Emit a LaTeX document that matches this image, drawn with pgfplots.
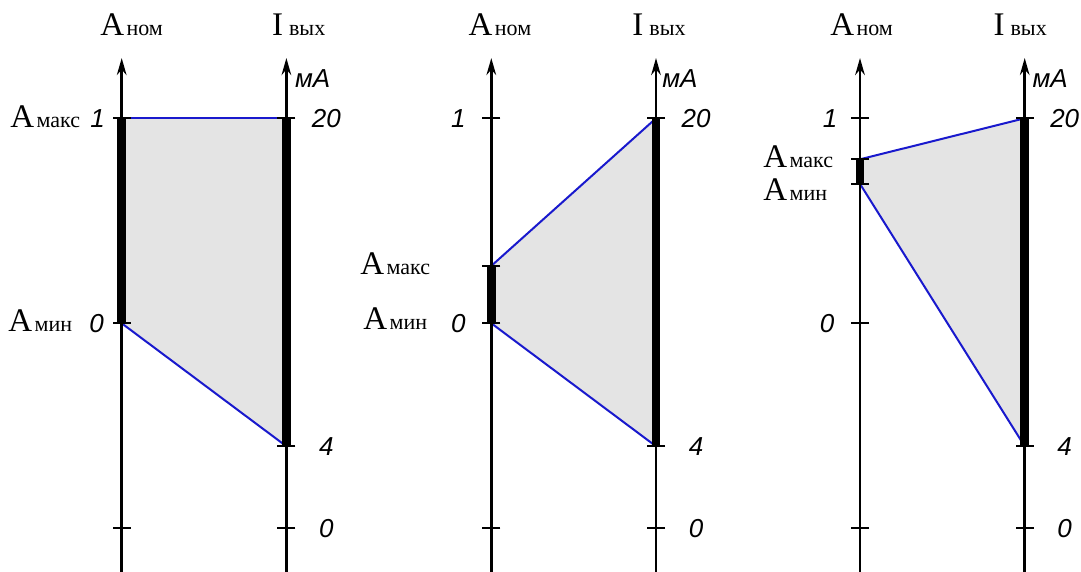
\documentclass[border=0pt]{standalone}
\usepackage{pgfplots}
\pgfplotsset{compat=1.18}
\usetikzlibrary{arrows.meta}
\usepackage{fontspec}
\setmainfont{Liberation Serif}
\newfontfamily\arial{Liberation Sans}
\definecolor{lineblue}{RGB}{25,25,205}
\definecolor{fillgray}{RGB}{228,228,228}
\newcommand{\Alab}[1]{{\fontsize{16.5}{16.5}\selectfont A}\hspace{1.2pt}{\fontsize{11}{11}\selectfont #1}}
\newcommand{\Ilab}{{\fontsize{16.5}{16.5}\selectfont I}\hspace{3pt}{\fontsize{11}{11}\selectfont вых}}
\newcommand{\nm}[1]{{\arial\itshape\fontsize{13}{13}\selectfont #1}}
\pgfplotsset{
  panel/.style={hide axis, scale only axis, width=82.35pt, height=266.5pt,
    xmin=0, xmax=1, ymin=-1.25, ymax=1.35, clip=false, anchor=south west},
  axl/.style={black, line width=1.25pt, -{Stealth[length=8.5pt,width=4.8pt]}},
  bar/.style={black, line width=4.3pt},
  bl/.style={lineblue, line width=1pt},
  tk/.style={only marks, mark=-, mark size=4.5pt, mark options={line width=1.2pt, black}},
}
\tikzset{lab/.style={inner sep=0pt}}
\begin{document}
\begin{tikzpicture}
% Panel 1
\begin{axis}[panel, at={(60.85pt,-3.775pt)}]
\addplot[fill=fillgray, draw=none] coordinates {(0,0) (0,1) (1,1) (1,-0.6)} -- cycle;
\addplot[bl] coordinates {(0,1) (1,1)};
\addplot[bl] coordinates {(0,0) (1,-0.6)};
\addplot[axl] coordinates {(0,-1.25) (0,1.294)};
\addplot[axl] coordinates {(1,-1.25) (1,1.294)};
\addplot[bar] coordinates {(0,0) (0,1)};
\addplot[bar] coordinates {(1,-0.6) (1,1)};
\addplot[tk] coordinates {(0,1) (0,0) (0,-1) (1,1) (1,-0.6) (1,-1)};
\node[lab, anchor=base west, xshift=-10.85pt] at (axis cs:0,1.4015) {\Alab{ном}};
\node[lab, anchor=base west, xshift=-7.35pt] at (axis cs:1,1.4015) {\Ilab};
\node[lab, anchor=base west, xshift=4.1pt] at (axis cs:1,1.148) {\nm{мА}};
\node[lab, xshift=20pt] at (axis cs:1,1) {\nm{20}};
\node[lab, xshift=20pt] at (axis cs:1,-0.6) {\nm{4}};
\node[lab, xshift=20pt] at (axis cs:1,-1) {\nm{0}};
\node[lab, xshift=-12pt] at (axis cs:0,1) {\nm{1}};
\node[lab, xshift=-12.5pt] at (axis cs:0,0) {\nm{0}};
\node[lab, anchor=base west, xshift=-55.85pt] at (axis cs:0,0.9527) {\Alab{макс}};
\node[lab, anchor=base west, xshift=-56.85pt] at (axis cs:0,-0.0424) {\Alab{мин}};
\end{axis}
% Panel 2
\begin{axis}[panel, at={(245.65pt,-3.775pt)}]
\addplot[fill=fillgray, draw=none] coordinates {(0,0) (0,0.28) (1,1) (1,-0.6)} -- cycle;
\addplot[bl] coordinates {(0,0.28) (1,1)};
\addplot[bl] coordinates {(0,0) (1,-0.6)};
\addplot[axl] coordinates {(0,-1.25) (0,1.294)};
\addplot[axl] coordinates {(1,-1.25) (1,1.294)};
\addplot[bar] coordinates {(0,0) (0,0.28)};
\addplot[bar] coordinates {(1,-0.6) (1,1)};
\addplot[tk] coordinates {(0,1) (0,0.28) (0,0) (0,-1) (1,1) (1,-0.6) (1,-1)};
\node[lab, anchor=base west, xshift=-11.5pt] at (axis cs:0,1.4015) {\Alab{ном}};
\node[lab, anchor=base west, xshift=-12pt] at (axis cs:1,1.4015) {\Ilab};
\node[lab, anchor=base west, xshift=3pt] at (axis cs:1,1.148) {\nm{мА}};
\node[lab, xshift=20pt] at (axis cs:1,1) {\nm{20}};
\node[lab, xshift=20pt] at (axis cs:1,-0.6) {\nm{4}};
\node[lab, xshift=20pt] at (axis cs:1,-1) {\nm{0}};
\node[lab, xshift=-16.5pt] at (axis cs:0,1) {\nm{1}};
\node[lab, xshift=-16.5pt] at (axis cs:0,0) {\nm{0}};
\node[lab, anchor=base west, xshift=-65.65pt] at (axis cs:0,0.2356) {\Alab{макс}};
\node[lab, anchor=base west, xshift=-64.15pt] at (axis cs:0,-0.0327) {\Alab{мин}};
\end{axis}
% Panel 3
\begin{axis}[panel, at={(430pt,-3.775pt)}]
\addplot[fill=fillgray, draw=none] coordinates {(0,0.68) (0,0.8) (1,1) (1,-0.6)} -- cycle;
\addplot[bl] coordinates {(0,0.8) (1,1)};
\addplot[bl] coordinates {(0,0.68) (1,-0.6)};
\addplot[axl] coordinates {(0,-1.25) (0,1.294)};
\addplot[axl] coordinates {(1,-1.25) (1,1.294)};
\addplot[bar] coordinates {(0,0.68) (0,0.8)};
\addplot[bar] coordinates {(1,-0.6) (1,1)};
\addplot[tk] coordinates {(0,1) (0,0.8) (0,0.68) (0,0) (0,-1) (1,1) (1,-0.6) (1,-1)};
\node[lab, anchor=base west, xshift=-15pt] at (axis cs:0,1.4015) {\Alab{ном}};
\node[lab, anchor=base west, xshift=-15.75pt] at (axis cs:1,1.4015) {\Ilab};
\node[lab, anchor=base west, xshift=3.75pt] at (axis cs:1,1.148) {\nm{мА}};
\node[lab, xshift=20pt] at (axis cs:1,1) {\nm{20}};
\node[lab, xshift=20pt] at (axis cs:1,-0.6) {\nm{4}};
\node[lab, xshift=20pt] at (axis cs:1,-1) {\nm{0}};
\node[lab, xshift=-15pt] at (axis cs:0,1) {\nm{1}};
\node[lab, xshift=-16.5pt] at (axis cs:0,0) {\nm{0}};
\node[lab, anchor=base west, xshift=-48.5pt] at (axis cs:0,0.7624) {\Alab{макс}};
\node[lab, anchor=base west, xshift=-48.5pt] at (axis cs:0,0.5966) {\Alab{мин}};
\end{axis}
\pgfresetboundingbox
\path[use as bounding box] (0,0) rectangle (540.5pt,286pt);
\end{tikzpicture}
\end{document}
